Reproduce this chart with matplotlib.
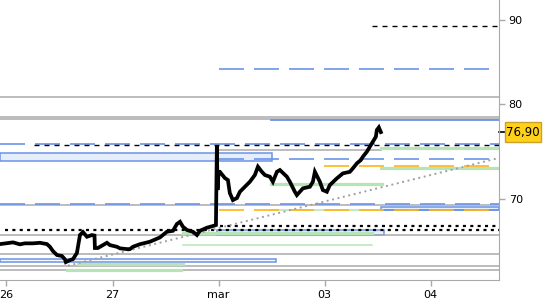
import matplotlib
matplotlib.use("Agg")
import matplotlib.pyplot as plt
import matplotlib.transforms as mtransforms
from matplotlib.patches import Rectangle

plt.rcParams['font.family'] = ['DejaVu Sans']
plt.rcParams['lines.scale_dashes'] = False

# x axis: trading-day index, labels as on the chart
day_ticks = [0, 1, 2, 3, 4]
day_labels = ['26', '27', 'mar', '03', '04']
x_min, x_max = -0.061, 4.644

# price axis (log scale)
y_min, y_max = 62.48, 92.57
price_ticks = [70, 80, 90]
last_price = 76.90

# intraday price path
t = [-0.061, 0.033, 0.061, 0.127, 0.174, 0.250, 0.316, 0.382, 0.410, 0.438,
     0.476, 0.523, 0.551, 0.560, 0.598, 0.627, 0.664, 0.693, 0.721, 0.759,
     0.806, 0.830, 0.834, 0.862, 0.910, 0.947, 0.975, 1.042, 1.070, 1.136,
     1.164, 1.192, 1.258, 1.353, 1.447, 1.513, 1.570, 1.607, 1.636, 1.664,
     1.702, 1.758, 1.796, 1.824, 1.890, 1.947, 1.975,
     1.984, 1.990, 2.000, 2.012, 2.059, 2.088, 2.106, 2.135, 2.173, 2.201,
     2.248, 2.295, 2.342, 2.371, 2.408, 2.437, 2.484, 2.512, 2.550, 2.578,
     2.644, 2.672, 2.719, 2.738, 2.795, 2.861, 2.889, 2.908, 2.955, 2.983,
     3.021, 3.049, 3.115, 3.172, 3.238, 3.266, 3.304, 3.341, 3.360, 3.398,
     3.426, 3.454, 3.483, 3.492, 3.511, 3.530]
price = [65.71, 65.83, 65.87, 65.69, 65.78, 65.78, 65.83, 65.71, 65.46, 65.07,
         64.71, 64.62, 64.32, 64.07, 64.25, 64.34, 64.89, 66.55, 66.83, 66.39,
         66.55, 66.50, 65.35, 65.35, 65.62, 65.83, 65.62, 65.46, 65.32, 65.25,
         65.25, 65.46, 65.70, 65.93, 66.33, 66.86, 66.95, 67.59, 67.80, 67.33,
         67.02, 66.86, 66.55, 66.95, 67.24, 67.40, 67.49,
         75.51, 70.89, 72.73, 72.73, 72.10, 71.89, 70.59, 69.90, 70.10, 70.72,
         71.22, 71.72, 72.40, 73.25, 72.73, 72.40, 72.23, 71.72, 72.73, 72.91,
         72.23, 71.72, 70.72, 70.39, 71.06, 71.22, 71.72, 72.73, 71.72, 70.89,
         70.72, 71.39, 72.06, 72.57, 72.73, 73.08, 73.60, 73.94, 74.28, 74.81,
         75.33, 75.86, 76.40, 77.12, 77.41, 76.90]

# levels: (price, start, end)
gray_levels = [(80.75, x_min, x_max), (78.52, x_min, x_max), (78.28, x_min, x_max),
               (74.96, 1.984, 3.530), (69.39, x_min, x_max), (66.56, x_min, x_max),
               (64.78, x_min, x_max), (63.75, x_min, x_max), (63.37, x_min, x_max)]
blue_solid_levels = [(78.26, 2.493, x_max)]
blue_dash_levels = [(83.99, 2.000, x_max), (75.60, x_min, x_max), (74.03, 2.000, x_max),
                    (69.49, x_min, x_max), (68.92, 3.530, x_max)]
black_dash_levels = [(89.25, 3.445, x_max), (75.49, 0.259, x_max)]
orange_dash_levels = [(73.30, 2.992, x_max), (68.92, 2.000, x_max)]
green_thick_levels = [(75.17, 3.530, x_max), (73.09, 3.530, x_max), (71.50, 2.493, 3.540),
                      (66.71, 1.664, 3.445), (63.90, 0.674, 1.664), (63.40, 0.570, 1.645)]
green_thin_levels = [(65.63, 1.664, 3.445), (68.92, 2.484, 3.502)]
black_dot_levels = [(67.43, 2.012, x_max), (67.05, -0.014, x_max)]

# zones: (low, high, start, end)
zones = [(73.88, 74.71, x_min, 2.500), (68.90, 69.25, 3.530, x_max),
         (66.55, 67.00, 1.984, 3.558), (64.05, 64.35, x_min, 2.537)]

# dotted trend line
trend_t = [0.580, 4.644]
trend_p = [63.75, 74.16]

GRAY = '#a9a9a9'
BLUE = '#6b93e6'
ORANGE = '#ffb414'
GREEN = '#b6e4b6'
ZONE_FILL = '#e6edfb'

fig = plt.figure(figsize=(5.5, 3.0), dpi=100)
ax = fig.add_axes([0.0, 20 / 300, 499 / 550, 280 / 300])
ax.set_yscale('log')
ax.set_xlim(x_min, x_max)
ax.set_ylim(y_min, y_max)

for lo, hi, a, b in zones:
    fc = ZONE_FILL if lo > 64.5 else '#f6f8fe'
    ax.add_patch(Rectangle((a, lo), b - a, hi - lo, facecolor=fc,
                           edgecolor=BLUE, linewidth=1.1, zorder=1))

for p, a, b in gray_levels:
    ax.plot([a, b], [p, p], color=GRAY, lw=1.1, zorder=2)
for p, a, b in green_thick_levels:
    ax.plot([a, b], [p, p], color=GREEN, lw=2.3, zorder=2)
for p, a, b in green_thin_levels:
    ax.plot([a, b], [p, p], color=GREEN, lw=1.1, zorder=2)
for p, a, b in blue_solid_levels:
    ax.plot([a, b], [p, p], color=BLUE, lw=1.3, zorder=3)
for p, a, b in blue_dash_levels:
    ax.plot([a, b], [p, p], color=BLUE, lw=1.2, dashes=(18, 7.2), zorder=3)
for p, a, b in orange_dash_levels:
    ax.plot([a, b], [p, p], color=ORANGE, lw=1.2, dashes=(18, 7.2), zorder=3)
for p, a, b in black_dash_levels:
    ax.plot([a, b], [p, p], color='black', lw=1.0, dashes=(3.6, 3.6), zorder=4)
for p, a, b in black_dot_levels:
    ax.plot([a, b], [p, p], color='black', lw=1.6, dashes=(2.2, 3.1), zorder=4)

ax.plot(trend_t, trend_p, color='#a0a0a0', lw=1.4, dashes=(1.4, 2.6), zorder=4)

ax.plot(t, price, color='black', lw=2.7, solid_joinstyle='miter', zorder=6)

# axes styling
for side in ['left', 'top']:
    ax.spines[side].set_visible(False)
ax.spines['right'].set_color(GRAY)
ax.spines['bottom'].set_color(GRAY)
ax.yaxis.tick_right()
ax.set_yticks(price_ticks)
ax.set_yticklabels([str(v) for v in price_ticks])
ax.yaxis.set_minor_locator(matplotlib.ticker.NullLocator())
ax.set_xticks(day_ticks)
ax.set_xticklabels(day_labels)
ax.tick_params(axis='both', colors=GRAY, labelcolor='black', labelsize=8,
               length=4, width=1, pad=3)

# last price marker on the right axis
trans = mtransforms.blended_transform_factory(ax.transAxes, ax.transData)
ax.plot([1.0, 1.014], [last_price, last_price], color='black', lw=1.2,
        transform=trans, clip_on=False)
fig.canvas.draw()
px_y = ax.transData.transform((0, last_price))[1]
fig.patches.append(Rectangle((505 / 550, (px_y - 10) / 300), 36 / 550, 20 / 300,
                             transform=fig.transFigure, facecolor='#ffd11a',
                             edgecolor='#c9a227', linewidth=1.0))
fig.text(523 / 550, px_y / 300, '76,90', ha='center', va='center', fontsize=8.5,
         color='black')

fig.savefig('out.png', dpi=100)
